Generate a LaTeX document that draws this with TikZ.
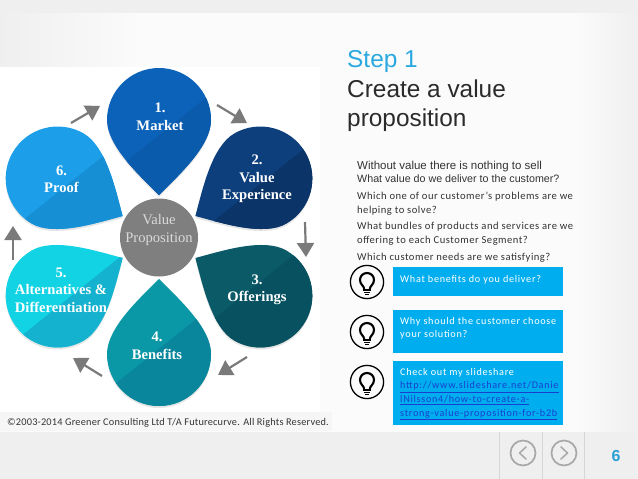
\documentclass[tikz,border=0pt]{standalone}
\usepackage{fontspec}
\usetikzlibrary{arrows.meta}
\setmainfont{Liberation Sans}
\newfontfamily\serifpetal{Liberation Serif}
\newfontfamily\bodyfont[LetterSpace=4.6]{Carlito}
\newfontfamily\copyfont[LetterSpace=2]{Carlito}
\newfontfamily\boxfont[LetterSpace=7]{Carlito}
\definecolor{pagegray}{HTML}{EFEFEF}
\definecolor{paper}{HTML}{FBFBFB}
\definecolor{stepblue}{HTML}{2AA9E0}
\definecolor{inkdark}{HTML}{2B2B2B}
\definecolor{bodyink}{HTML}{333333}
\definecolor{boxblue}{HTML}{00AEEF}
\definecolor{linkblue}{HTML}{1A3FD0}
\definecolor{arrowgray}{HTML}{7A7A7A}
\definecolor{hubgray}{HTML}{7F7F7F}
\definecolor{navgray}{HTML}{A8A8A8}
\definecolor{navline}{HTML}{D6D6D6}
\definecolor{numblue}{HTML}{2A9FD6}
\definecolor{hubtextc}{HTML}{DADADA}
\definecolor{pA}{HTML}{0B62B8}\definecolor{pAd}{HTML}{0A5BAC}
\definecolor{pB}{HTML}{0D3F7C}\definecolor{pBd}{HTML}{0B3468}
\definecolor{pC}{HTML}{0A5A68}\definecolor{pCd}{HTML}{085160}
\definecolor{pD}{HTML}{0A98A6}\definecolor{pDd}{HTML}{0A869C}
\definecolor{pE}{HTML}{12D3E4}\definecolor{pEd}{HTML}{14B2CE}
\definecolor{pF}{HTML}{1C9FE8}\definecolor{pFd}{HTML}{178FD4}
\pgfdeclarehorizontalshading{bandshade}{100bp}{color(0bp)=(pagegray); color(25bp)=(pagegray); color(36bp)=(paper); color(70bp)=(paper); color(75bp)=(pagegray); color(100bp)=(pagegray)}
\def\petalpath{(0,-42) .. controls (-20,-62) and (-52,-91) .. (-52,-117)
  .. controls (-52,-145.7) and (-28.7,-169) .. (0,-169)
  .. controls (28.7,-169) and (52,-145.7) .. (52,-117)
  .. controls (52,-91) and (20,-62) .. (0,-42) -- cycle}
% #1 rotation step, #2 main colour, #3 darker colour, #4 #5 start of the band edge
\newcommand{\drawpetal}[5]{%
  \begin{scope}[shift={(159,237)},rotate=-60*#1]
    \fill[black,opacity=.10] [rotate=60*#1,yshift=-2pt,rotate=-60*#1] \petalpath;
    \fill[#2] \petalpath;
    \begin{scope}
      \clip \petalpath;
      \begin{scope}[rotate=60*#1,shift={(-159,-237)}]
        \fill[#3] (#4-100,#5+80) -- (#4+200,#5-160) -- (#4+200,#5+300) -- (#4-100,#5+300) -- cycle;
      \end{scope}
    \end{scope}
  \end{scope}}
\tikzset{
  petaltext/.style={text=white,align=center,inner sep=0pt,font=\serifpetal\bfseries\fontsize{14.6}{17.5}\selectfont},
  hubtext/.style={text=hubtextc,align=center,inner sep=0pt,font=\serifpetal\fontsize{14.6}{18}\selectfont},
  flowarrow/.style={draw=arrowgray,line width=2.2pt,-{Triangle[length=14pt,width=17pt,fill=arrowgray]}},
  bluebox/.style={fill=boxblue,draw=none},
  boxtext/.style={anchor=north west,inner sep=0pt,align=left,text=white,font=\boxfont\fontsize{10.2}{13.7}\selectfont},
  bodytext/.style={anchor=north west,inner sep=0pt,align=left,text=bodyink,font=\bodyfont\fontsize{10.6}{14}\selectfont},
  titletext/.style={anchor=base west,inner sep=0pt,font=\fontsize{24.4}{29}\selectfont},
  navcircle/.style={circle,draw=navgray,line width=1.7pt,minimum size=25pt,inner sep=0pt},
  navchevron/.style={draw=navgray,line width=1.5pt,line cap=round,line join=round},
  navrule/.style={draw=navline,line width=.7pt},
  bulbicon/.pic={
    \draw[black,line width=1.3pt] (0,0) circle[radius=16.6];
    \draw[black,line width=2.1pt,line join=round] (-2.8,7) .. controls (-2.8,4) and (-7,2.5) .. (-7,-2)
      .. controls (-7,-6) and (-4,-9) .. (0,-9)
      .. controls (4,-9) and (7,-6) .. (7,-2)
      .. controls (7,2.5) and (2.8,4) .. (2.8,7);
    \draw[black,line width=1.2pt] (-4.2,8) -- (4.2,8);
    \draw[black,line width=1.0pt] (-3,10.6) -- (3,10.6);
    \draw[black,line width=.9pt] (-1.6,12.6) -- (1.6,12.6);
  }
}
\begin{document}
\begin{tikzpicture}[x=1pt,y=-1pt]
\useasboundingbox (0,0) rectangle (638,479);
% page
\fill[paper] (0,0) rectangle (638,479);
\shade[shading=bandshade] (0,13) rectangle (638,67);
\shade[left color=paper,right color=pagegray] (574,67) rectangle (638,432);
\fill[pagegray] (0,0) rectangle (638,13);
\fill[white] (0,67) rectangle (320,412);
\fill[pagegray!55!white] (0,412) rectangle (332,431);
\fill[pagegray] (0,432) rectangle (638,479);
% petals
\drawpetal{0}{pA}{pAd}{128}{160}
\drawpetal{1}{pB}{pBd}{215}{220}
\drawpetal{2}{pC}{pCd}{215}{318}
\drawpetal{3}{pD}{pDd}{120}{380}
\drawpetal{4}{pE}{pEd}{25}{333}
\drawpetal{5}{pF}{pFd}{27}{217}
\node[petaltext] (market) at (160,117) {1.\\Market};
\node[petaltext] (experience) at (257,179) {2.\\Value\\Experience};
\node[petaltext] (offerings) at (257,290) {3.\\Offerings};
\node[petaltext] (benefits) at (157,346) {4.\\Benefits};
\node[petaltext] (alternatives) at (61,290) {5.\\Alternatives \&\\Differentiation};
\node[petaltext] (proofnode) at (61.5,179) {6.\\Proof};
\node[circle,fill=hubgray,minimum size=78pt,inner sep=0pt] (hub) at (159,237.5) {};
\node[hubtext] (hublabel) at (159,230) {Value\\Proposition};
% arrows
\coordinate (a1) at (217,105); \coordinate (b1) at (247,123);
\coordinate (a2) at (305,222); \coordinate (b2) at (306,257);
\coordinate (a3) at (247,357); \coordinate (b3) at (218,375);
\coordinate (a4) at (102,376); \coordinate (b4) at (73,358);
\coordinate (a5) at (13,260);  \coordinate (b5) at (13,226);
\coordinate (a6) at (71,123);  \coordinate (b6) at (100,106);
\foreach \i in {1,...,6} \draw[flowarrow] (a\i) -- (b\i);
% copyright
\node[anchor=base west,inner sep=0pt,text=bodyink,font=\copyfont\fontsize{10.3}{12}\selectfont] (copy) at (7,425.5)
  {©2003-2014 Greener Consulting Ltd T/A Futurecurve. All Rights Reserved.};
% title
\node[titletext,text=stepblue] (steptitle) at (347,67) {Step 1};
\node[titletext,text=inkdark] (titleone) at (347,97) {Create a value};
\node[titletext,text=inkdark] (titletwo) at (347,126.5) {proposition};
% body
\node[anchor=base west,inner sep=0pt,text=bodyink,font=\fontsize{11.5}{13}\selectfont] (lineone) at (357,169) {Without value there is nothing to sell};
\node[anchor=base west,inner sep=0pt,text=bodyink,font=\fontsize{10.7}{12}\selectfont] (linetwo) at (357,182) {What value do we deliver to the customer?};
\node[bodytext] (parone) at (357,189.2) {\strut Which one of our customer’s problems are we\\helping to solve?};
\node[bodytext] (partwo) at (357,219.2) {\strut What bundles of products and services are we\\offering to each Customer Segment?};
\node[bodytext] (parthree) at (357,250.2) {\strut Which customer needs are we satisfying?};
% boxes
\node[bluebox,anchor=north west,minimum width=170pt,minimum height=29pt,inner sep=0pt] (boxone) at (393,267) {};
\node[bluebox,anchor=north west,minimum width=170pt,minimum height=43pt,inner sep=0pt] (boxtwo) at (393,310) {};
\node[bluebox,anchor=north west,minimum width=170pt,minimum height=64pt,inner sep=0pt] (boxthree) at (393,361) {};
\node[boxtext] (boxonetext) at (400,272.4) {\strut What benefits do you deliver?};
\node[boxtext] (boxtwotext) at (400,314.4) {\strut Why should the customer choose\\your solution?};
\node[boxtext] (boxthreetext) at (400,365.4) {\strut Check out my slideshare\\\textcolor{linkblue}{\underline{http://www.slideshare.net/Danie}}\\\textcolor{linkblue}{\underline{lNilsson4/how-to-create-a-}}\\\textcolor{linkblue}{\underline{strong-value-proposition-for-b2b}}};
% icons
\pic at (367,282) {bulbicon};
\pic at (367,332) {bulbicon};
\pic at (367,382) {bulbicon};
% footer
\coordinate (r1t) at (499,432); \coordinate (r1b) at (499,479);
\coordinate (r2t) at (542,432); \coordinate (r2b) at (542,479);
\coordinate (r3t) at (584,432); \coordinate (r3b) at (584,479);
\draw[navrule] (r1t) -- (r1b);
\draw[navrule] (r2t) -- (r2b);
\draw[navrule] (r3t) -- (r3b);
\node[navcircle] (prevnav) at (523,453) {};
\node[navcircle] (nextnav) at (564,453) {};
\draw[navchevron] (526,447) -- (519.5,453) -- (526,459);
\draw[navchevron] (561,447) -- (567.5,453) -- (561,459);
\node[inner sep=0pt,text=numblue,font=\bfseries\fontsize{16}{18}\selectfont] (pagenum) at (616,456) {6};
\end{tikzpicture}
\end{document}
